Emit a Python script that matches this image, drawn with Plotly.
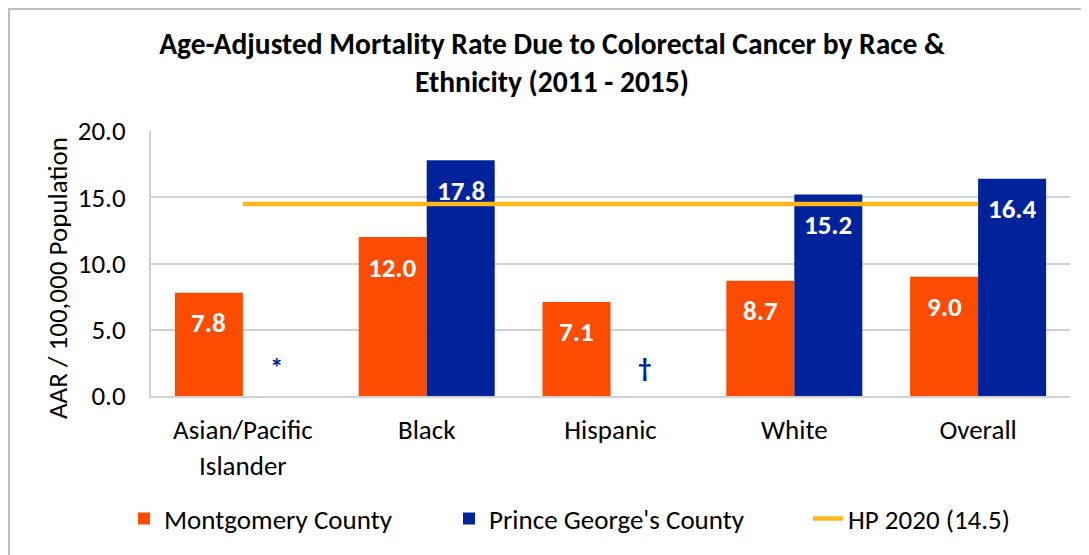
import plotly.graph_objects as go

# ---- data ----
categories = ["Asian/Pacific<br>Islander", "Black", "Hispanic", "White", "Overall"]
montgomery = [7.8, 12.0, 7.1, 8.7, 9.0]
prince_georges = [None, 17.8, None, 15.2, 16.4]
pg_notes = ["*", None, "†", None, None]   # shown where no value is reported
hp2020_target = 14.5
hp2020_values = [hp2020_target] * len(categories)

# ---- style ----
FONT = "Carlito, Calibri, Lato, 'Open Sans', sans-serif"
ORANGE = "#FC4C02"
BLUE = "#00239C"
GOLD = "#FDB71A"
GRID = "#D0D0D0"
FS = 27

# page body has an 8px margin: figure is 8px smaller than the window
W, H = 1081, 547
ML, MR, MT, MB = 143, 19, 123, 159
plot_w = W - ML - MR
plot_h = H - MT - MB
BARGAP = 0.26
bar_w_px = plot_w / len(categories) * (1 - BARGAP) / 2
shift = bar_w_px / 2


def px_x(px):
    return (px - ML) / plot_w


def px_y(px):
    return (MT + plot_h - px) / plot_h


fig = go.Figure()
fig.add_trace(go.Bar(
    name="Montgomery County", x=categories, y=montgomery,
    marker=dict(color=ORANGE, line=dict(width=0)), legend="legend",
))
fig.add_trace(go.Bar(
    name="Prince George's County", x=categories, y=prince_georges,
    marker=dict(color=BLUE, line=dict(width=0)), legend="legend2",
))
fig.add_trace(go.Scatter(
    name="HP 2020 (14.5)", x=categories, y=hp2020_values, mode="lines",
    line=dict(color=GOLD, width=4.5), legend="legend3",
))

annotations = []
# data labels inside bar ends
for cat, v in zip(categories, montgomery):
    if v is not None:
        annotations.append(dict(x=cat, y=v, xref="x", yref="y", text=f"{v:.1f}",
                                showarrow=False, xshift=-shift, yshift=-30, yanchor="middle",
                                font=dict(family=FONT, size=FS, color="white", weight="bold")))
for cat, v, note in zip(categories, prince_georges, pg_notes):
    if v is not None:
        annotations.append(dict(x=cat, y=v, xref="x", yref="y", text=f"{v:.1f}",
                                showarrow=False, xshift=shift, yshift=-30, yanchor="middle",
                                font=dict(family=FONT, size=FS, color="white", weight="bold")))
    elif note:
        annotations.append(dict(x=cat, y=0, xref="x", yref="y", text=note,
                                showarrow=False, xshift=shift, yshift=29, yanchor="middle",
                                font=dict(family=FONT, size=FS, color=BLUE, weight="bold")))
# y-axis title
annotations.append(dict(x=px_x(49), y=px_y(270), xref="paper", yref="paper",
                        xanchor="center", yanchor="middle",
                        text="AAR / 100,000 Population", textangle=-90, showarrow=False,
                        font=dict(family=FONT, size=FS, color="#000000")))

legend_common = dict(orientation="h", xanchor="left", yanchor="middle", y=px_y(511),
                     font=dict(family=FONT, size=FS, color="#000000"), bgcolor="rgba(0,0,0,0)")

fig.update_layout(
    width=W, height=H,
    margin=dict(l=ML, r=MR, t=MT, b=MB),
    paper_bgcolor="white", plot_bgcolor="white",
    barmode="group", bargap=BARGAP, bargroupgap=0,
    title=dict(text="Age-Adjusted Mortality Rate Due to Colorectal Cancer by Race &<br>Ethnicity (2011 - 2015)",
               x=(552 - 8) / W, xanchor="center", y=1 - 45.5 / H, yanchor="middle",
               xref="container", yref="container",
               font=dict(family=FONT, size=29.5, color="#000000", weight="bold")),
    font=dict(family=FONT, size=FS, color="#000000"),
    showlegend=True,
    legend=dict(x=px_x(159 - 43), **legend_common),
    legend2=dict(x=px_x(484 - 43), **legend_common),
    legend3=dict(x=px_x(843 - 43), **legend_common),
    annotations=annotations,
    shapes=[dict(type="rect", xref="paper", yref="paper",
                 x0=px_x(1), x1=px_x(W + 20),
                 y0=px_y(H + 20), y1=px_y(1),
                 line=dict(color="#BFBFBF", width=2), layer="below")],
)
fig.update_xaxes(showline=True, linecolor=GRID, linewidth=2, ticks="outside", ticklen=9,
                 tickcolor="rgba(0,0,0,0)", tickfont=dict(family=FONT, size=FS, color="#000000"),
                 showgrid=False)
fig.update_yaxes(range=[0, 20], dtick=5, tickformat=".1f", showline=True, linecolor=GRID, linewidth=2,
                 showgrid=True, gridcolor=GRID, gridwidth=2, ticks="outside", ticklen=18,
                 tickcolor="rgba(0,0,0,0)", tickfont=dict(family=FONT, size=FS, color="#000000"),
                 zeroline=False)

fig.write_html("out.html")
